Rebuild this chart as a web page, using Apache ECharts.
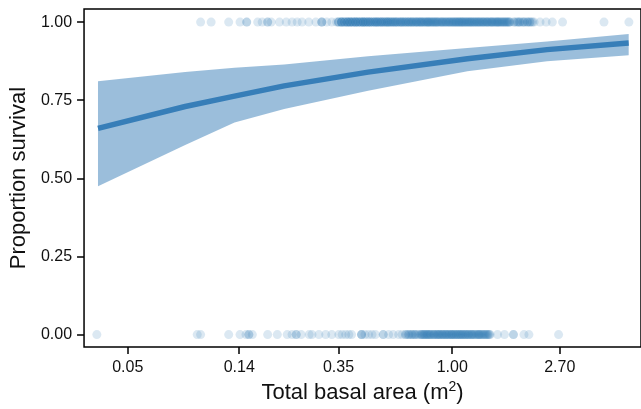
<!DOCTYPE html>
<html>
<head>
<meta charset="utf-8">
<script src="https://cdn.jsdelivr.net/npm/echarts@6/dist/echarts.min.js"></script>
<style>
  html, body { margin: 0; padding: 0; background: #fff; }
  #chart { width: 641px; height: 409px; }
</style>
</head>
<body>
<div id="chart"></div>
<script>
// Trees that survived: basal area (m2) and number of trees with that area
const survivedArea = [
  0.098, 0.108, 0.127, 0.141, 0.150, 0.166, 0.173, 0.182, 0.188, 0.203, 0.216, 0.228,
  0.239, 0.250, 0.266, 0.284, 0.300, 0.314, 0.329, 0.344,
  0.35, 0.36, 0.37, 0.38, 0.39, 0.40, 0.41, 0.42, 0.43, 0.44, 0.45, 0.46, 0.47, 0.48,
  0.49, 0.50, 0.51, 0.52, 0.53, 0.54, 0.55, 0.56, 0.57, 0.58, 0.59, 0.60, 0.61, 0.62,
  0.63, 0.64, 0.65, 0.66, 0.67, 0.68, 0.69, 0.70, 0.71, 0.72, 0.73, 0.74, 0.75, 0.76,
  0.77, 0.78, 0.79, 0.80, 0.81, 0.82, 0.83, 0.84, 0.85, 0.86, 0.87, 0.88, 0.89, 0.90,
  0.91, 0.92, 0.93, 0.94, 0.95, 0.96, 0.97, 0.98, 0.99, 1.00,
  1.01, 1.02, 1.03, 1.04, 1.05, 1.06, 1.07, 1.08, 1.09, 1.10, 1.11, 1.12, 1.13, 1.14,
  1.15, 1.16, 1.17, 1.18, 1.19, 1.20, 1.21, 1.22, 1.23, 1.24, 1.25, 1.26, 1.27, 1.28,
  1.29, 1.30, 1.31, 1.32, 1.33, 1.34, 1.35, 1.36, 1.37, 1.38, 1.39, 1.40, 1.41, 1.42,
  1.43, 1.44, 1.45, 1.46, 1.47, 1.48, 1.49, 1.50, 1.51, 1.52, 1.53, 1.54, 1.55, 1.56,
  1.57, 1.58, 1.59, 1.60, 1.61, 1.62, 1.63, 1.64, 1.65, 1.66, 1.67, 1.68, 1.69, 1.70,
  1.71, 1.77, 1.80, 1.83, 1.86, 1.88, 1.92, 1.95, 2.00, 2.02, 2.05, 2.08, 2.10, 2.13,
  2.25, 2.38, 2.52, 2.77, 4.06, 5.11
];
const survivedCount = [
  1, 1, 1, 1, 2, 1, 1, 2, 1, 1, 1, 1,
  1, 1, 1, 1, 3, 1, 1, 1,
  3, 5, 4, 5, 5, 4, 5, 4, 4, 5, 4, 4, 4, 3,
  4, 4, 3, 4, 3, 3, 4, 3, 3, 3, 3, 3, 2, 3,
  3, 2, 3, 2, 3, 2, 3, 2, 2, 3, 2, 2, 3, 2,
  2, 2, 2, 3, 2, 2, 2, 2, 2, 2, 2, 2, 1, 2,
  2, 2, 1, 2, 2, 1, 2, 2, 1, 2,
  2, 1, 2, 2, 1, 2, 2, 1, 2, 2, 1, 2, 1, 2,
  1, 2, 1, 2, 1, 2, 1, 1, 2, 1, 1, 2, 1, 1,
  2, 1, 1, 1, 2, 1, 1, 1, 1, 2, 1, 1, 1, 1,
  1, 2, 1, 1, 1, 1, 1, 1, 1, 2, 1, 1, 1, 1,
  1, 1, 1, 1, 1, 1, 1, 1, 1, 1, 1, 1, 1, 1,
  1, 2, 1, 2, 2, 1, 2, 2, 2, 1, 2, 1, 1, 1,
  1, 1, 1, 1, 1, 1
];

// Trees that died: basal area (m2) and number of trees with that area
const diedArea = [
  0.0376, 0.095, 0.098, 0.127, 0.141, 0.149, 0.153, 0.158, 0.182, 0.199, 0.218, 0.228,
  0.237, 0.248, 0.267, 0.274, 0.292, 0.311, 0.329, 0.351, 0.362, 0.374, 0.385, 0.395,
  0.433, 0.447, 0.462, 0.477, 0.492, 0.529, 0.556, 0.580, 0.61, 0.63, 0.65, 0.66, 0.67,
  0.68, 0.69, 0.70, 0.71, 0.72, 0.73, 0.74,
  0.75, 0.76, 0.77, 0.78, 0.79, 0.80, 0.81, 0.82, 0.83, 0.84, 0.85, 0.86, 0.87, 0.88,
  0.89, 0.90, 0.91, 0.92, 0.93, 0.94, 0.95, 0.96, 0.97, 0.98, 0.99, 1.00, 1.01, 1.02,
  1.03, 1.04, 1.05, 1.06, 1.07, 1.08, 1.09, 1.10, 1.11, 1.12, 1.13, 1.14, 1.15, 1.16,
  1.17, 1.18, 1.19, 1.20, 1.21, 1.22, 1.23, 1.24, 1.25, 1.26, 1.27, 1.28, 1.29, 1.30,
  1.31, 1.32, 1.33, 1.34, 1.35, 1.36, 1.37, 1.38, 1.39, 1.40, 1.41, 1.42,
  1.52, 1.62, 1.76, 1.94, 2.03, 2.67
];
const diedCount = [
  1, 1, 1, 1, 1, 1, 2, 1, 1, 1, 1, 1,
  2, 1, 1, 1, 1, 1, 1, 1, 1, 1, 1, 1,
  3, 1, 1, 1, 1, 2, 1, 1, 1, 1, 2, 1, 2,
  1, 2, 1, 2, 1, 1, 1,
  2, 2, 2, 2, 2, 2, 2, 2, 1, 2, 2, 1, 2, 2,
  2, 1, 2, 2, 1, 2, 2, 1, 2, 1, 2, 2, 1, 2,
  1, 2, 1, 2, 1, 2, 1, 2, 1, 1, 2, 1, 1, 2,
  1, 1, 1, 2, 1, 1, 1, 1, 1, 1, 1, 2, 1, 1,
  1, 1, 1, 1, 1, 1, 1, 1, 1, 1, 1, 1,
  1, 1, 2, 1, 1, 1
];

// Fitted survival probability with 95% confidence band
const predArea = [0.038, 0.085, 0.134, 0.212, 0.46, 1.15, 2.40, 5.10];
const predFit  = [0.660, 0.730, 0.763, 0.796, 0.840, 0.883, 0.912, 0.933];
const predLow  = [0.475, 0.607, 0.679, 0.722, 0.780, 0.843, 0.875, 0.894];
const predHigh = [0.811, 0.840, 0.854, 0.864, 0.891, 0.917, 0.938, 0.962];

// Axis breaks
const xBreaks = [0.05, 0.14, 0.35, 1.00, 2.70];
const yBreaks = [0, 0.25, 0.5, 0.75, 1];

const BLUE = '#377EB8';
const FONT = '"Liberation Sans", Arial, Helvetica, sans-serif';
const TXT = '#111';

const ln = Math.log;

// One point per tree, on a log basal-area scale
function treePoints(areas, counts, outcome) {
  const pts = [];
  areas.forEach((a, i) => {
    for (let k = 0; k < counts[i]; k++) pts.push([ln(a), outcome]);
  });
  return pts;
}

// Confidence band: one polygon, upper edge left->right then lower edge right->left
function renderBand(params, api) {
  if (params.dataIndex !== 0) return null;
  const upper = predArea.map((a, i) => api.coord([ln(a), predHigh[i]]));
  const lower = predArea.map((a, i) => api.coord([ln(a), predLow[i]])).reverse();
  return {
    type: 'polygon',
    shape: { points: upper.concat(lower) },
    style: { fill: BLUE, opacity: 0.5 }
  };
}

const chart = echarts.init(document.getElementById('chart'), null, { renderer: 'canvas' });

chart.setOption({
  animation: false,
  backgroundColor: '#fff',
  grid: {
    left: 83, top: 9, right: -4, bottom: 59,
    show: true, borderColor: '#000', borderWidth: 1.5, backgroundColor: 'transparent'
  },
  xAxis: {
    type: 'value',
    min: -3.399, max: 1.743,
    name: 'Total basal area (m{sup|2})',
    nameLocation: 'middle',
    nameGap: 28,
    nameTextStyle: {
      fontFamily: FONT, fontSize: 22, color: TXT,
      rich: { sup: { fontFamily: FONT, fontSize: 14, color: TXT, verticalAlign: 'top', padding: [0, 0, 12, 0] } }
    },
    axisLine: { show: false, onZero: false },
    splitLine: { show: false },
    axisTick: {
      show: true, length: 7, inside: false,
      lineStyle: { color: '#000', width: 1.5 },
      customValues: xBreaks.map(ln)
    },
    axisLabel: {
      customValues: xBreaks.map(ln),
      formatter: v => Math.exp(v).toFixed(2),
      fontFamily: FONT, fontSize: 16, color: TXT, margin: 12
    }
  },
  yAxis: {
    type: 'value',
    min: -0.04, max: 1.042,
    name: 'Proportion survival',
    nameLocation: 'middle',
    nameGap: 54,
    nameRotate: 90,
    nameTextStyle: { fontFamily: FONT, fontSize: 22, color: TXT },
    axisLine: { show: false, onZero: false },
    splitLine: { show: false },
    axisTick: {
      show: true, length: 7, inside: false,
      lineStyle: { color: '#000', width: 1.5 },
      customValues: yBreaks
    },
    axisLabel: {
      customValues: yBreaks,
      formatter: v => v.toFixed(2),
      fontFamily: FONT, fontSize: 16, color: TXT, margin: 12
    }
  },
  series: [
    {
      type: 'scatter',
      data: treePoints(survivedArea, survivedCount, 1),
      symbolSize: 9,
      itemStyle: { color: BLUE, opacity: 0.18 },
      silent: true, z: 1
    },
    {
      type: 'scatter',
      data: treePoints(diedArea, diedCount, 0),
      symbolSize: 9,
      itemStyle: { color: BLUE, opacity: 0.18 },
      silent: true, z: 1
    },
    {
      type: 'custom',
      data: predArea.map((a, i) => [ln(a), predLow[i], predHigh[i]]),
      encode: { x: 0, y: [1, 2] },
      renderItem: renderBand,
      silent: true, z: 2
    },
    {
      type: 'line',
      data: predArea.map((a, i) => [ln(a), predFit[i]]),
      symbol: 'none',
      lineStyle: { color: BLUE, width: 5.5, cap: 'butt' },
      silent: true, z: 3
    }
  ]
});
</script>
</body>
</html>
